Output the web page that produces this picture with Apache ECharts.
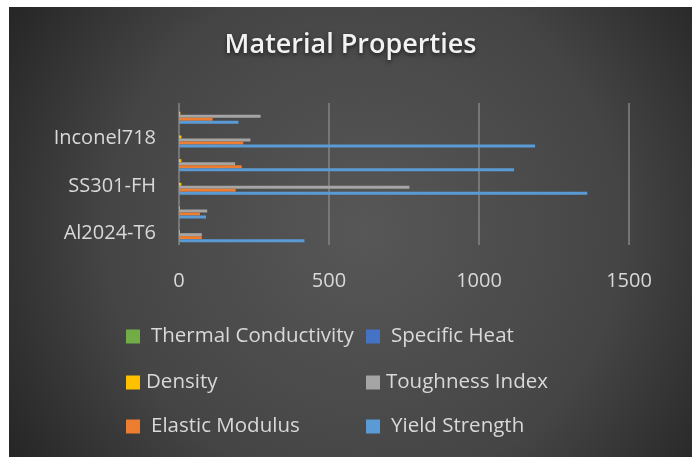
<!DOCTYPE html>
<html>
<head>
<meta charset="utf-8">
<script src="https://cdn.jsdelivr.net/npm/echarts@6/dist/echarts.min.js"></script>
<style>
  html, body { margin: 0; padding: 0; background: #ffffff; width: 692px; height: 457px; overflow: hidden; }
  #chart { position: absolute; left: 9px; top: 7px; width: 683px; height: 450px; }
</style>
</head>
<body>
<div id="chart"></div>
<script>
// Categories (bottom to top on the axis)
var categories = ['Al2024-T6', 'Al5052-O', 'SS301-FH', 'AISI4340', 'Inconel718', 'Ti-CP2'];
var xTicks = [0, 500, 1000, 1500];

// Series values (same order as categories)
var yieldStrength = [418, 90, 1361, 1117, 1187, 198];
var elasticModulus = [76, 70, 189, 209, 214, 112];
var toughnessIndex = [76, 94, 768, 187, 238, 272];
var density = [2.78, 2.68, 7.88, 7.85, 8.19, 4.51];
var specificHeat = [0.875, 0.9, 0.5, 0.475, 0.435, 0.52];
var thermalConductivity = [1.21, 1.38, 0.16, 0.45, 0.11, 0.2];

// Top-to-bottom order inside each category group
var seriesNames = ['Thermal Conductivity', 'Specific Heat', 'Density', 'Toughness Index', 'Elastic Modulus', 'Yield Strength'];
var seriesData = [thermalConductivity, specificHeat, density, toughnessIndex, elasticModulus, yieldStrength];
var seriesColors = ['#70ad47', '#4472c4', '#ffc000', '#a5a5a5', '#ed7d31', '#5b9bd5'];

var FONT = '"Open Sans", sans-serif';
var TXT = '#d9d9d9';

var chart = echarts.init(document.getElementById('chart'));

function mkLegend(name, left, top, padLeft) {
  return {
    data: [name], left: left, top: top, orient: 'horizontal',
    itemWidth: 14, itemHeight: 14, icon: 'rect', padding: 0,
    textStyle: { color: TXT, fontFamily: FONT, fontSize: 20.5, padding: [0, 0, 0, padLeft] }
  };
}

var option = {
  backgroundColor: {
    type: 'radial', x: 0.52, y: 0.5, r: 0.95,
    colorStops: [
      { offset: 0, color: '#575757' },
      { offset: 0.6, color: '#454545' },
      { offset: 1, color: '#242424' }
    ]
  },
  animation: false,
  title: {
    text: 'Material Properties',
    left: 'center', top: 20,
    textStyle: {
      color: '#f2f2f2', fontFamily: FONT, fontWeight: 600, fontSize: 27,
      textShadowColor: 'rgba(0,0,0,0.6)', textShadowBlur: 4, textShadowOffsetY: 2
    }
  },
  legend: [
    mkLegend('Thermal Conductivity', 117, 319, 6),
    mkLegend('Specific Heat', 357, 319, 6),
    mkLegend('Density', 117, 365, 1),
    mkLegend('Toughness Index', 357, 365, 1),
    mkLegend('Elastic Modulus', 117, 409, 6),
    mkLegend('Yield Strength', 357, 409, 6)
  ],
  grid: { left: 170, right: 63, top: 96, bottom: 212, containLabel: false },
  xAxis: {
    type: 'value', min: xTicks[0], max: xTicks[xTicks.length - 1], interval: 500,
    axisLine: { show: false }, axisTick: { show: false },
    splitLine: { show: true, lineStyle: { color: '#858585', width: 1.5 } },
    axisLabel: { color: TXT, fontFamily: FONT, fontSize: 20, margin: 26, formatter: function (v) { return String(v); } }
  },
  yAxis: {
    type: 'category', data: categories,
    axisLine: { show: false }, axisTick: { show: false },
    axisLabel: { color: TXT, fontFamily: FONT, fontSize: 20, margin: 23, interval: 1 }
  },
  series: seriesNames.map(function (n, i) {
    return {
      name: n, type: 'bar', data: seriesData[i],
      barWidth: 3, barGap: '0%',
      itemStyle: { color: seriesColors[i] }
    };
  })
};
chart.setOption(option);
</script>
</body>
</html>
